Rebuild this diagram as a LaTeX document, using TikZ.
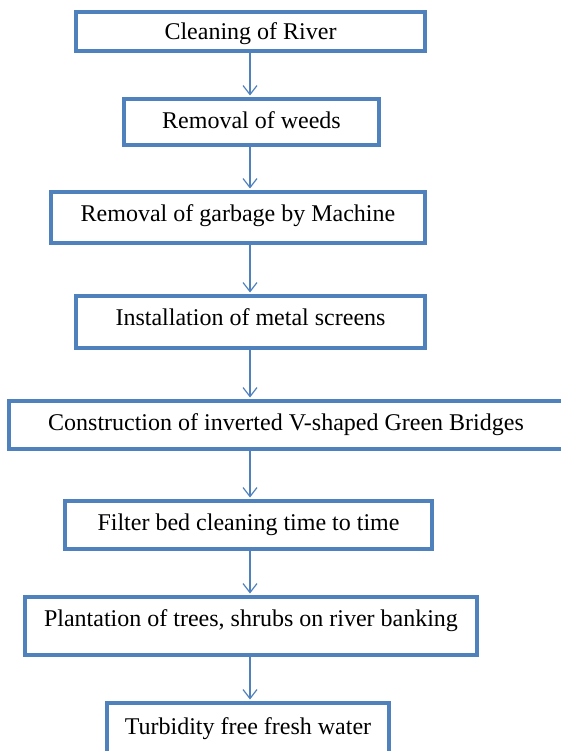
\documentclass[tikz,border=0pt]{standalone}
\usepackage{fontspec}
\setmainfont{Liberation Serif}
\usepackage{tikz}
\usetikzlibrary{arrows.meta}
\definecolor{BoxBlue}{RGB}{79,129,189}

\begin{document}
\begin{tikzpicture}[x=1pt,y=-1pt,font=\fontsize{24}{28}\selectfont,
	box/.style={draw=BoxBlue,line width=3.5pt,inner sep=0pt,text height=16pt,text depth=5pt},
	flow/.style={draw=BoxBlue,line width=1.2pt,shorten >=1.75pt,-{Straight Barb[length=9pt,width=14pt]}}]
	\useasboundingbox (0,0) rectangle (561,751);
	\node[box,minimum width=349pt,minimum height=39pt,text height=21pt,text depth=4pt] (A) at (250.5,31.5) {Cleaning of River};
	\node[box,minimum width=255pt,minimum height=46pt,text height=19pt] (B) at (251.5,122) {Removal of weeds};
	\node[box,minimum width=374pt,minimum height=51pt,text depth=8pt] (C) at (238,217.5) {Removal of garbage by Machine};
	\node[box,minimum width=349pt,minimum height=52pt,text depth=10pt] (D) at (250.5,322) {Installation of metal screens};
	\node[box,minimum width=554pt,minimum height=48pt] (E) at (286,425) {Construction of inverted V-shaped Green Bridges};
	\node[box,minimum width=367pt,minimum height=48pt] (F) at (248.5,525) {Filter bed cleaning time to time};
	\node[box,minimum width=452pt,minimum height=58pt,text depth=15pt] (G) at (251,626) {Plantation of trees, shrubs on river banking};
	\node[box,minimum width=282pt,minimum height=54pt,text depth=8pt] (H) at (248,730) {Turbidity free fresh water};
	\coordinate (X) at (250,0);

	\path[every edge/.append style={flow}]
	(A.south -| X) edge (B.north -| X)
	(B.south -| X) edge (C.north -| X)
	(C.south -| X) edge (D.north -| X)
	(D.south -| X) edge (E.north -| X)
	(E.south -| X) edge (F.north -| X)
	(F.south -| X) edge (G.north -| X)
	(G.south -| X) edge (H.north -| X)
	;
\end{tikzpicture}
\end{document}
